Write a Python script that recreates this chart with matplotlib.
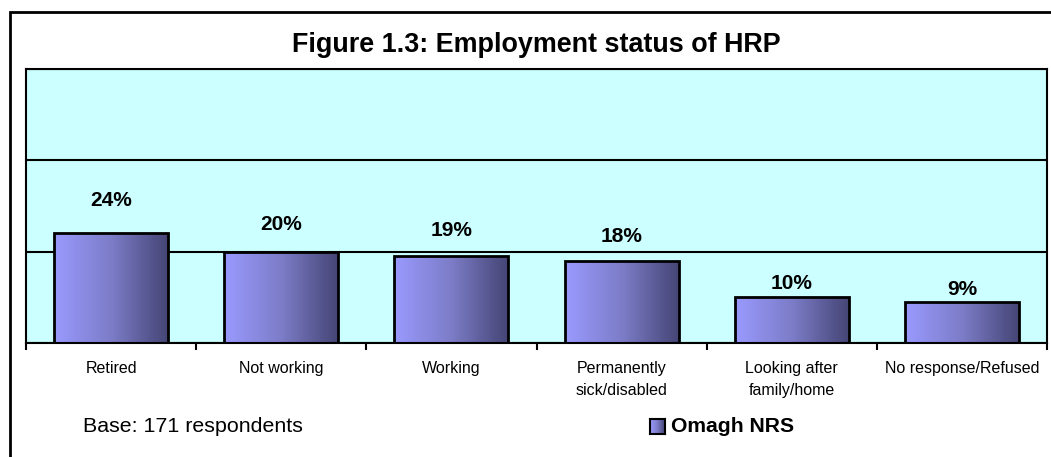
import numpy as np
import matplotlib.pyplot as plt
from matplotlib.colors import LinearSegmentedColormap
from matplotlib.patches import Rectangle

plt.rcParams['font.family'] = ['Liberation Sans', 'DejaVu Sans']

# Data
categories = ['Retired', 'Not working', 'Working', 'Permanently\nsick/disabled',
              'Looking after\nfamily/home', 'No response/Refused']
values = [24, 20, 19, 18, 10, 9]
series_name = 'Omagh NRS'

fig = plt.figure(figsize=(10.51, 4.57), dpi=100)
ax = fig.add_axes([26 / 1051, 1 - 343 / 457, 1021 / 1051, 274 / 457])

ax.set_facecolor('#CCFFFF')
grad_cmap = LinearSegmentedColormap.from_list('bar', ['#9A9AFF', '#7C7CC8', '#444474'])
gradient = np.linspace(0, 1, 256).reshape(1, -1)

x = np.arange(len(categories))
bars = ax.bar(x, values, width=0.67, facecolor='none', edgecolor='black',
              linewidth=2, zorder=3)

# horizontal gradient fill for each bar
for bar in bars:
    x0, w, h = bar.get_x(), bar.get_width(), bar.get_height()
    im = ax.imshow(gradient, extent=[x0, x0 + w, 0, h], aspect='auto',
                   cmap=grad_cmap, zorder=2, interpolation='bilinear')
    im.set_clip_path(bar)

# percentage labels
for bar, v in zip(bars, values):
    ax.text(bar.get_x() + bar.get_width() / 2, v * 1.3, f'{v}%',
            ha='center', va='center', fontsize=15, fontweight='bold', zorder=4)

ax.set_xlim(-0.5, len(categories) - 0.5)
ax.set_ylim(0, 60)
ax.set_yticks([0, 20, 40, 60])
ax.yaxis.grid(True, color='black', linewidth=1.5)
ax.set_axisbelow(True)
ax.tick_params(axis='y', length=0, labelleft=False)

ax.set_xticks(x)
ax.set_xticklabels(categories, fontsize=11.5, linespacing=1.6)
ax.set_xticks(np.arange(len(categories) + 1) - 0.5, minor=True)
ax.tick_params(axis='x', which='major', length=0, pad=13)
ax.tick_params(axis='x', which='minor', length=5, width=1.5, direction='out')

for s in ax.spines.values():
    s.set_linewidth(1.5)
    s.set_color('black')

# title
fig.text(536 / 1051, 1 - 45 / 457, 'Figure 1.3: Employment status of HRP',
         ha='center', va='center', fontsize=19.4, fontweight='bold')

# base note
fig.text(83 / 1051, 1 - 427 / 457, 'Base: 171 respondents', ha='left',
         va='center', fontsize=15.4)

# legend drawn by hand with gradient swatch
lax = fig.add_axes([650 / 1051, 1 - 434 / 457, 15 / 1051, 15 / 457])
lax.imshow(gradient, extent=[0, 1, 0, 1], aspect='auto', cmap=grad_cmap)
lax.set_xlim(0, 1)
lax.set_ylim(0, 1)
lax.set_xticks([])
lax.set_yticks([])
for s in lax.spines.values():
    s.set_linewidth(1.5)
fig.text(671 / 1051, 1 - 427 / 457, series_name, ha='left', va='center',
         fontsize=15.2, fontweight='bold')

# outer chart frame (runs off the right and bottom edges)
fig.patches.append(Rectangle((10 / 1051, -0.1), 1.2, 1 - 12 / 457 + 0.1,
                             transform=fig.transFigure, fill=False,
                             edgecolor='black', linewidth=2))

plt.savefig('out.png', dpi=100)
plt.close()
